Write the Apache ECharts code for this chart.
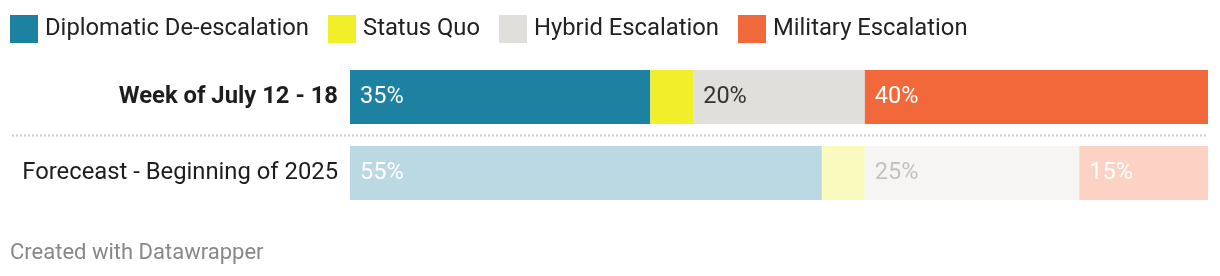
<!DOCTYPE html>
<html>
<head>
<meta charset="utf-8">
<style>
html,body{margin:0;padding:0;background:#fff;}
#chart{width:1220px;height:276px;}
</style>
<script src="https://cdn.jsdelivr.net/npm/echarts@6/dist/echarts.min.js"></script>
</head>
<body>
<div id="chart"></div>
<script>
var categories = ['Week of July 12 - 18', 'Foreceast - Beginning of 2025'];
var seriesNames = ['Diplomatic De-escalation', 'Status Quo', 'Hybrid Escalation', 'Military Escalation'];
var diplomatic = [35, 55];
var statusQuo = [5, 5];
var hybrid = [20, 25];
var military = [40, 15];

var colors = ['#1d81a2', '#f0ef2a', '#e0dfdb', '#f1693a'];
var fadedColors = ['#bbd9e3', '#fafabf', '#f6f5f4', '#fbd2c4'];
var labelColors = ['#ffffff', '#333333', '#333333', '#ffffff'];
var labelColorsFaded = ['#ffffff', '#c2c2c2', '#c2c2c2', '#ffffff'];
var showLabel = [true, false, true, true];
var values = [diplomatic, statusQuo, hybrid, military];

var chart = echarts.init(document.getElementById('chart'), null, {renderer: 'canvas'});

var FONT = 'Roboto, "Noto Sans", sans-serif';

var series = seriesNames.map(function (name, s) {
  return {
    name: name,
    type: 'bar',
    stack: 'total',
    barWidth: 54,
    itemStyle: {color: colors[s]},
    label: {
      show: showLabel[s],
      position: 'insideLeft',
      distance: 10,
      fontFamily: FONT,
      fontSize: 23.5,
      color: labelColors[s],
      formatter: function (p) { return p.value + '%'; }
    },
    emphasis: {disabled: true},
    data: values[s].map(function (v, i) {
      if (i === 0) return v;
      return {
        value: v,
        itemStyle: {color: fadedColors[s]},
        label: {color: labelColorsFaded[s]}
      };
    })
  };
});

chart.setOption({
  animation: false,
  color: colors,
  legend: {
    left: 10,
    top: 15,
    padding: 0,
    icon: 'rect',
    itemWidth: 28,
    itemHeight: 28,
    itemGap: 19,
    selectedMode: false,
    textStyle: {fontFamily: FONT, fontSize: 23.8, color: '#222222', padding: [2, 0, 0, 2]},
    data: seriesNames
  },
  grid: {left: 350, right: 12, top: 59, height: 152},
  xAxis: {
    type: 'value', min: 0, max: 100,
    show: false
  },
  yAxis: {
    type: 'category',
    inverse: true,
    data: categories,
    axisLine: {show: false},
    axisTick: {show: false},
    splitLine: {show: false},
    axisLabel: {
      margin: 12,
      fontFamily: FONT,
      fontSize: 23.8,
      color: '#1d1d1d',
      formatter: function (v, i) { return i === 0 ? '{b|' + v + '}' : v; },
      rich: {b: {fontFamily: FONT, fontSize: 23.8, fontWeight: 'bold', color: '#1d1d1d'}}
    }
  },
  series: series
});

// Dotted separator between the two rows
var y0 = chart.convertToPixel({yAxisIndex: 0}, categories[0]);
var y1 = chart.convertToPixel({yAxisIndex: 0}, categories[1]);
var ySep = Math.round((y0 + y1) / 2) + 0.5;
var xEnd = chart.convertToPixel({xAxisIndex: 0}, 100);
chart.setOption({
  graphic: [
    {
      type: 'line',
      shape: {x1: 12, y1: ySep, x2: xEnd, y2: ySep},
      style: {stroke: '#cccccc', lineWidth: 2, lineDash: [2, 2]},
      silent: true
    },
    {
      type: 'text',
      left: 10,
      top: 242,
      style: {text: 'Created with Datawrapper', fontFamily: FONT, fontSize: 22, fill: '#888888'},
      silent: true
    }
  ]
});
</script>
</body>
</html>
